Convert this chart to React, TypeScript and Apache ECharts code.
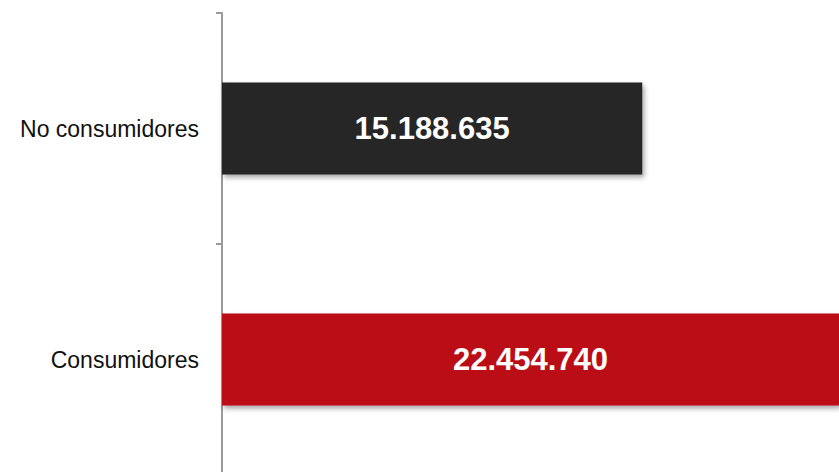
import React, { useEffect, useRef } from "react";
import * as echarts from "echarts";

const categories: string[] = ["Consumidores", "No consumidores"];
const values: number[] = [22454740, 15188635];
const barColors: string[] = ["#bb0914", "#262626"];

const fmt = (v: number) =>
  String(Math.round(v)).replace(/\B(?=(\d{3})+(?!\d))/g, ".");

export default function App() {
  const ref = useRef<HTMLDivElement>(null);
  useEffect(() => {
    if (!ref.current) return;
    const chart = echarts.init(ref.current, undefined, { renderer: "svg" });
    chart.setOption({
      animation: false,
      backgroundColor: "#ffffff",
      grid: { left: 222, top: 13, bottom: 5, right: 0, outerBoundsMode: "none" },
      xAxis: {
        type: "value",
        min: 0,
        max: 22300000,
        show: false,
      },
      yAxis: {
        type: "category",
        data: categories,
        axisLine: { show: true, lineStyle: { color: "#9a9a9a", width: 2 } },
        axisTick: { show: true, length: 6, lineStyle: { color: "#9a9a9a", width: 2 } },
        axisLabel: {
          margin: 23,
          color: "#111111",
          fontSize: 23,
          fontFamily: "'Liberation Sans', Arial, sans-serif",
        },
        splitLine: { show: false },
      },
      series: [
        {
          type: "bar",
          barWidth: 92,
          clip: true,
          data: values.map((v, i) => ({
            value: v,
            itemStyle: {
              color: barColors[i],
              shadowColor: "rgba(0,0,0,0.35)",
              shadowBlur: 5,
              shadowOffsetX: 2,
              shadowOffsetY: 3,
            },
          })),
          label: {
            show: true,
            position: "inside",
            color: "#ffffff",
            fontWeight: "bold",
            fontSize: 31,
            fontFamily: "'Liberation Sans', Arial, sans-serif",
            formatter: (p: any) => fmt(p.value),
          },
        },
      ],
    });
    return () => chart.dispose();
  }, []);
  return (
    <div
      ref={ref}
      style={{ position: "fixed", left: 0, top: 0, width: 839, height: 480 }}
    />
  );
}
